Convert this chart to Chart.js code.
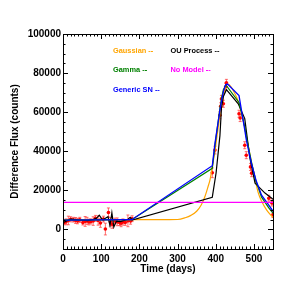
<!DOCTYPE html>
<html><head><meta charset="utf-8">
<script src="https://cdn.jsdelivr.net/npm/chart.js@4"></script>
<style>html,body{margin:0;padding:0;background:#fff}#c{display:block}</style>
</head><body>
<canvas id="c" width="300" height="300"></canvas>
<script>
// Observations
const obsTime = [3,8,14,20,27,33,38,44,52,58,63,68,73,79,85,92,98,106,111,119,124,129,136,142,148,152,157,163,170,177,181,
  391,398,411,413,415,420,426,428,461,464,476,480,491,494,539,547,550];
const obsFlux = [3600,3900,4600,5200,5000,4600,4300,4900,3500,4100,4400,3800,4100,4300,5700,4600,3300,5300,200,8700,3900,2600,4300,3900,3500,3200,3800,3600,4400,4300,5500,
  29000,40600,58400,63000,66800,64300,73000,75000,59200,57000,43100,38000,32000,28800,16000,13500,7600];
const obsErr = [1200,1500,2200,1300,1200,1500,1400,1300,1200,2500,1800,1500,1300,2200,1500,2400,2200,1500,3000,2300,2200,2000,1500,2000,1500,1800,1600,1500,3000,1600,1500,
  2500,2000,1800,1800,1800,1800,1800,1800,1800,1800,1800,1800,1800,1800,1500,1500,1500];

// Models
const gaussTime = [0,180,250,300,320,335,350,362,372,380,385,394,400,410,420,428,433,441,446,455,463,475,485,495,505,511,520,533,542,550];
const gaussFlux = [5000,5000,5000,5100,6000,7200,9300,12500,17000,22000,25400,35500,43000,57000,68500,74000,74400,72700,71000,67500,63000,53000,43000,33000,24000,19000,14500,10000,7800,6200];

const gammaTime = [0,180,391,398,411,415,420,426,428,461,476,480,491,494,505,520,539,550];
const gammaFlux = [4800,5000,31300,43000,62000,67000,71500,73800,73600,65000,52500,47500,37000,34000,25000,16500,11000,8300];

const snTime = [0,180,391,398,411,415,420,426,431,461,476,480,491,494,505,520,539,550];
const snFlux = [4800,5000,32600,44000,61000,65500,70500,74000,74400,68500,51000,46000,36000,33500,25500,17500,12500,9300];

const ouTime = [0,8,20,35,50,65,80,88,95,103,110,118,123,128,133,140,150,160,170,176,181,391,401,411,415,420,428,459,476,489,503,529,546,550];
const ouFlux = [3500,4200,5300,5000,4700,4500,5200,5800,7300,5000,5600,6500,2000,8500,1200,4300,4000,4600,5200,6200,4800,16500,29000,48000,62000,68000,71500,64300,56700,37000,23700,18600,16100,15500];

const noModelTime = [0,550];
const noModelFlux = [13900,13900];

// Axis ticks
const xTickLabels = [0,100,200,300,400,500];
const yTickLabels = [0,20000,40000,60000,80000,100000];
const xMinorStep = 10;
const yMinorStep = 5000;

const legendItems = [
  {text:'Gaussian --', color:'#FFA500', col:0, row:0},
  {text:'OU Process --', color:'#000000', col:1, row:0},
  {text:'Gamma --', color:'#008000', col:0, row:1},
  {text:'No Model --', color:'#FF00FF', col:1, row:1},
  {text:'Generic SN --', color:'#0000FF', col:0, row:2}
];

const pts = (t, f) => t.map((v, i) => ({x: v, y: f[i]}));
const FONT = 'Liberation Sans';

const errorBars = {
  id: 'errorBars',
  beforeDatasetsDraw(chart) {
    const {ctx, scales: {x, y}, chartArea} = chart;
    ctx.save();
    ctx.beginPath();
    ctx.rect(chartArea.left, chartArea.top, chartArea.right - chartArea.left, chartArea.bottom - chartArea.top);
    ctx.clip();
    ctx.strokeStyle = 'rgba(255,60,60,0.75)';
    ctx.lineWidth = 1;
    obsTime.forEach((t, i) => {
      const px = x.getPixelForValue(t);
      const y1 = y.getPixelForValue(obsFlux[i] - obsErr[i]);
      const y2 = y.getPixelForValue(obsFlux[i] + obsErr[i]);
      ctx.beginPath();
      ctx.moveTo(px, y1); ctx.lineTo(px, y2);
      ctx.moveTo(px - 1.5, y1); ctx.lineTo(px + 1.5, y1);
      ctx.moveTo(px - 1.5, y2); ctx.lineTo(px + 1.5, y2);
      ctx.stroke();
    });
    ctx.restore();
  }
};

const frame = {
  id: 'frame',
  afterDraw(chart) {
    const {ctx, scales: {x, y}, chartArea: a} = chart;
    ctx.save();
    ctx.strokeStyle = '#000';
    ctx.lineWidth = 1;
    ctx.strokeRect(Math.round(a.left) + 0.5, Math.round(a.top) + 0.5, Math.round(a.right - a.left), Math.round(a.bottom - a.top));
    ctx.beginPath();
    for (let v = x.min; v <= x.max + 1e-6; v += xMinorStep) {
      const px = Math.round(x.getPixelForValue(v)) + 0.5;
      const len = (v % 100 === 0) ? 5 : 2.5;
      ctx.moveTo(px, a.bottom); ctx.lineTo(px, a.bottom - len);
      ctx.moveTo(px, a.top); ctx.lineTo(px, a.top + len);
    }
    for (let v = y.min; v <= y.max + 1e-6; v += yMinorStep) {
      const py = Math.round(y.getPixelForValue(v)) + 0.5;
      const len = (v % 20000 === 0) ? 5 : 2.5;
      ctx.moveTo(a.left, py); ctx.lineTo(a.left + len, py);
      ctx.moveTo(a.right, py); ctx.lineTo(a.right - len, py);
    }
    ctx.stroke();
    // legend texts
    ctx.font = 'bold 7.4px "' + FONT + '"';
    ctx.textBaseline = 'middle';
    ctx.textAlign = 'left';
    legendItems.forEach(it => {
      ctx.fillStyle = it.color;
      ctx.fillText(it.text, a.left + 50 + it.col * 57.5, a.top + 16.5 + it.row * 19.7);
    });
    ctx.restore();
  }
};

const lineDs = (label, t, f, color, w, extra) => Object.assign({
  label, data: pts(t, f), showLine: true, borderColor: color, backgroundColor: color,
  borderWidth: w, pointRadius: 0, pointHoverRadius: 0, tension: 0
}, extra || {});

new Chart(document.getElementById('c'), {
  type: 'scatter',
  data: {
    datasets: [
      lineDs('No Model', noModelTime, noModelFlux, '#FF00FF', 1.3),
      lineDs('Generic SN', snTime, snFlux, '#0000FF', 1.3),
      lineDs('Gamma', gammaTime, gammaFlux, '#008000', 1.2),
      lineDs('OU Process', ouTime, ouFlux, '#000000', 1.2),
      lineDs('Gaussian', gaussTime, gaussFlux, '#FFA500', 1.2, {cubicInterpolationMode: 'monotone', tension: 0.4}),
      {label: 'Data', data: pts(obsTime, obsFlux), showLine: false, pointRadius: 1.8,
       pointBackgroundColor: '#FF0000', pointBorderColor: '#FF0000', pointBorderWidth: 0}
    ]
  },
  options: {
    responsive: false, animation: false, devicePixelRatio: 1,
    layout: {padding: {left: 0, right: 27, top: 34, bottom: 25}},
    plugins: {legend: {display: false}, tooltip: {enabled: false}},
    scales: {
      x: {
        type: 'linear', min: 0, max: 550,
        afterBuildTicks: s => { s.ticks = xTickLabels.map(v => ({value: v})); },
        afterFit: s => { s.height = 26; },
        grid: {display: false, drawTicks: false},
        border: {display: false},
        ticks: {color: '#000', padding: 4, maxRotation: 0, autoSkip: false,
                font: {family: FONT, weight: 'bold', size: 10}, callback: v => String(v)},
        title: {display: true, text: 'Time (days)', color: '#000', padding: {top: 0, bottom: 0},
                font: {family: FONT, weight: 'bold', size: 10}}
      },
      y: {
        type: 'linear', min: -10000, max: 100000,
        afterBuildTicks: s => { s.ticks = yTickLabels.map(v => ({value: v})); },
        afterFit: s => { s.width = 63; },
        grid: {display: false, drawTicks: false},
        border: {display: false},
        ticks: {color: '#000', padding: 2, autoSkip: false,
                font: {family: FONT, weight: 'bold', size: 10}, callback: v => String(v)},
        title: {display: true, text: 'Difference Flux (counts)', color: '#000', padding: {top: 9, bottom: 0},
                font: {family: FONT, weight: 'bold', size: 10}}
      }
    }
  },
  plugins: [errorBars, frame]
});
</script>
</body></html>
